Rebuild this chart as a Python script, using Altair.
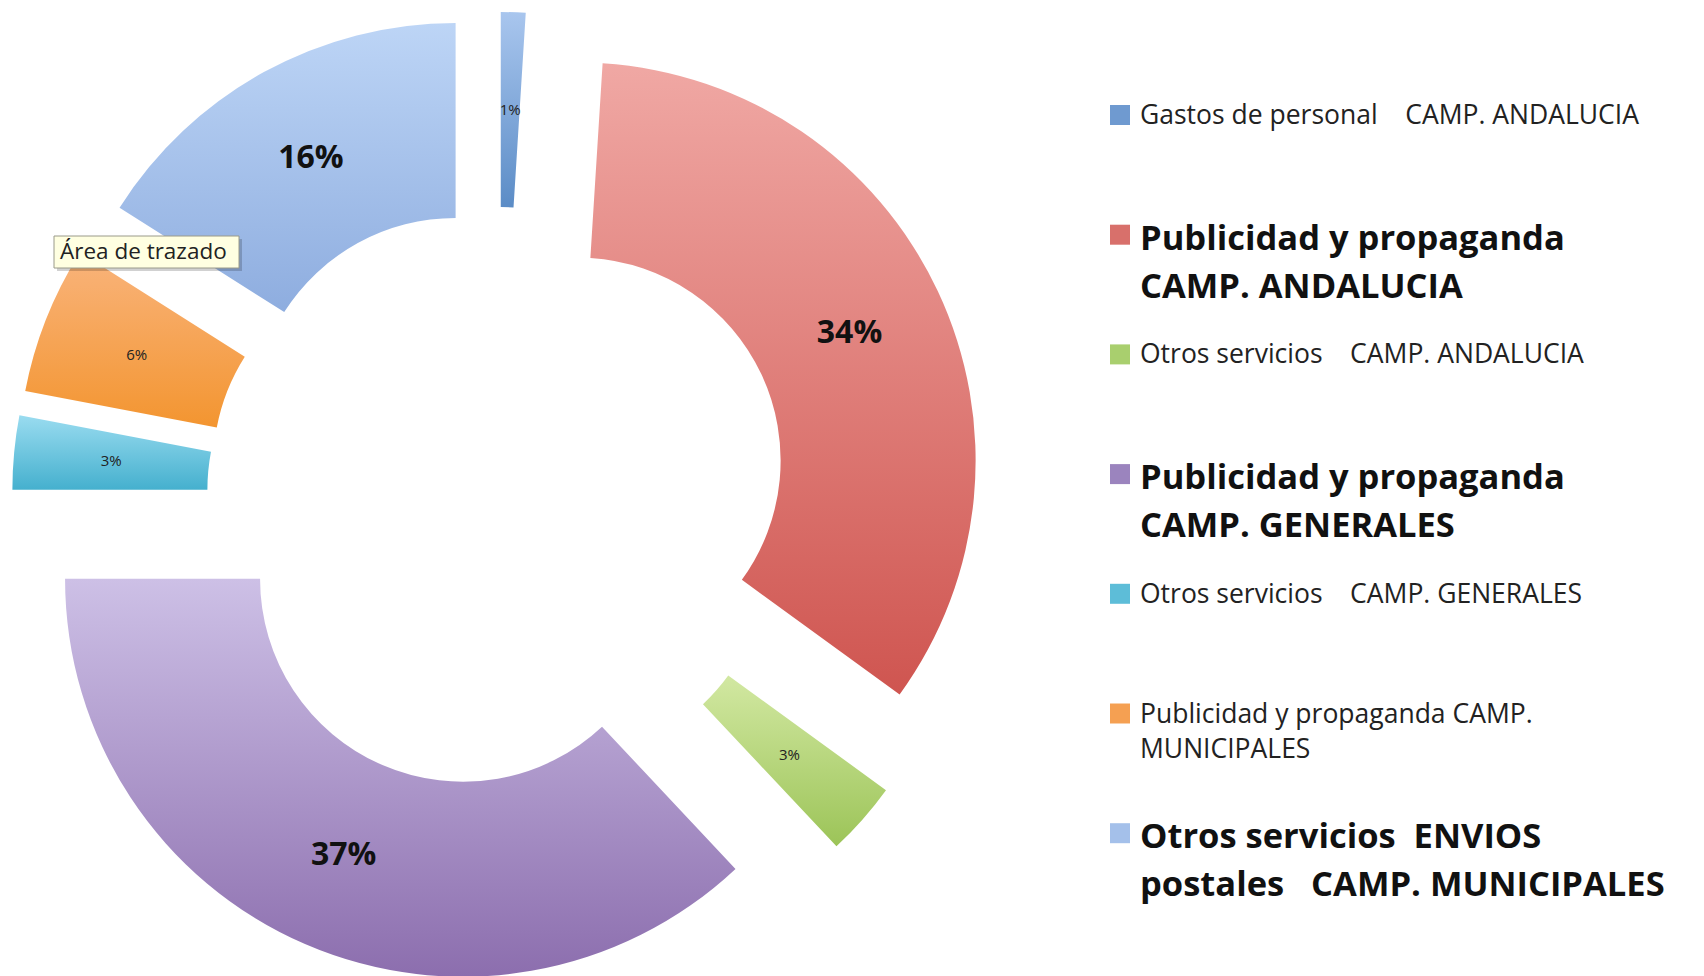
import altair as alt
import pandas as pd

# ---------------- data ----------------
categories = [
    "Gastos de personal CAMP. ANDALUCIA",
    "Publicidad y propaganda CAMP. ANDALUCIA",
    "Otros servicios CAMP. ANDALUCIA",
    "Publicidad y propaganda CAMP. GENERALES",
    "Otros servicios CAMP. GENERALES",
    "Publicidad y propaganda CAMP. MUNICIPALES",
    "Otros servicios ENVIOS postales CAMP. MUNICIPALES",
]
values = [1, 34, 3, 37, 3, 6, 16]
pct_labels = ["1%", "34%", "3%", "37%", "3%", "6%", "16%"]
NB = "\u00a0"
legend_labels = [
    "Gastos de personal" + NB * 4 + "CAMP. ANDALUCIA",
    "Publicidad y propaganda\nCAMP. ANDALUCIA",
    "Otros servicios" + NB * 4 + "CAMP. ANDALUCIA",
    "Publicidad y propaganda\nCAMP. GENERALES",
    "Otros servicios" + NB * 4 + "CAMP. GENERALES",
    "Publicidad y propaganda CAMP.\nMUNICIPALES",
    "Otros servicios" + NB * 2 + "ENVIOS\npostales" + NB * 3 + "CAMP. MUNICIPALES",
]
legend_bold = [False, True, False, True, False, False, True]

# ---------------- styles ----------------
top_colors = ["#A9C6EE", "#F0A8A4", "#D2E8A2", "#CDC0E6", "#9ADCF0", "#F9B47C", "#BDD5F6"]
bottom_colors = ["#5B8CC6", "#CF5550", "#9CC458", "#8C6EAE", "#45B0CE", "#F39530", "#8EADDF"]
legend_colors = ["#6F9AD0", "#D8706B", "#A9CF6E", "#9B84BE", "#5DBDD8", "#F5A052", "#A4C0EA"]

CX, CY = 490, 490       # donut centre (pixels)
D = 88                  # explode distance
R_IN, R_OUT = 203, 398
RM = (R_IN + R_OUT) / 2
LEG_X_SQ, LEG_X_TXT = 1112, 1132
LEG_Y0, LEG_STEP = 107, 119.7
FONT = "Open Sans"

df = pd.DataFrame({
    "idx": list(range(len(categories))),
    "cat": categories,
    "value": values,
    "pct": pct_labels,
    "legend": legend_labels,
    "bold": legend_bold,
})

base = (
    alt.Chart(df)
    .transform_window(cum="sum(value)", sort=[alt.SortField("idx")], frame=[None, 0])
    .transform_joinaggregate(total="sum(value)")
    .transform_calculate(t0="2*PI*(datum.cum - datum.value)/datum.total")
    .transform_calculate(t1="2*PI*datum.cum/datum.total")
    .transform_calculate(mid="(datum.t0 + datum.t1)/2")
    .transform_calculate(cx=f"{CX} + {D}*sin(datum.mid)")
    .transform_calculate(cy=f"{CY} - {D}*cos(datum.mid)")
    .transform_calculate(lx=f"{CX} + {D + RM}*sin(datum.mid)")
    .transform_calculate(ly=f"{CY} - {D + RM}*cos(datum.mid)")
    .transform_calculate(gy=f"{LEG_Y0} + {LEG_STEP}*datum.idx")
)

X = lambda f: alt.X(f, type="quantitative", scale=None, axis=None)
Y = lambda f: alt.Y(f, type="quantitative", scale=None, axis=None)

layers = []
for i in range(len(categories)):
    grad = {
        "gradient": "linear",
        "x1": 0, "x2": 0, "y1": 0, "y2": 1,
        "stops": [
            {"offset": 0, "color": top_colors[i]},
            {"offset": 1, "color": bottom_colors[i]},
        ],
    }
    layers.append(
        base.transform_filter(alt.datum.idx == i)
        .mark_arc(radius=R_OUT, radius2=R_IN, fill=grad, strokeWidth=0)
        .encode(
            theta=alt.Theta("t0:Q", scale=None),
            theta2="t1:Q",
            x=X("cx"),
            y=Y("cy"),
        )
    )

big_labels = (
    base.transform_filter("datum.value >= 10")
    .mark_text(font=FONT, fontSize=32, fontWeight="bold", color="#111111",
               align="center", baseline="middle")
    .encode(x=X("lx"), y=Y("ly"), text="pct:N")
)
small_labels = (
    base.transform_filter("datum.value < 10")
    .mark_text(font=FONT, fontSize=15, color="#222222",
               align="center", baseline="middle")
    .encode(x=X("lx"), y=Y("ly"), text="pct:N")
)

legend_squares = base.mark_square(size=400, opacity=1).encode(
    x=alt.X("lsx:Q", scale=None, axis=None),
    y=Y("gy"),
    color=alt.Color("cat:N", scale=alt.Scale(domain=categories, range=legend_colors), legend=None),
).transform_calculate(lsx=str(LEG_X_SQ))

legend_bold_txt = (
    base.transform_filter("datum.bold")
    .transform_calculate(tx=str(LEG_X_TXT), ty="datum.gy - 12")
    .mark_text(font=FONT, fontSize=34.5, fontWeight="bold", color="#111111",
               align="left", baseline="top", lineBreak="\n", lineHeight=48)
    .encode(x=X("tx"), y=Y("ty"), text="legend:N")
)
legend_norm_txt = (
    base.transform_filter("!datum.bold")
    .transform_calculate(tx=str(LEG_X_TXT), ty="datum.gy - 12")
    .mark_text(font=FONT, fontSize=26.5, color="#222222",
               align="left", baseline="top", lineBreak="\n", lineHeight=35)
    .encode(x=X("tx"), y=Y("ty"), text="legend:N")
)

# hover tooltip visible in the screenshot
tip_df = pd.DataFrame({"t": ["Área de trazado"]})
tip_shadow = alt.Chart(tip_df).mark_rect(fill="#000000", opacity=0.18).encode(
    x=alt.value(49), x2=alt.value(234), y=alt.value(231), y2=alt.value(263))
tip_box = alt.Chart(tip_df).mark_rect(fill="#FFFFE1", stroke="#9A9A8A", strokeWidth=1).encode(
    x=alt.value(46), x2=alt.value(231), y=alt.value(228), y2=alt.value(260))
tip_text = alt.Chart(tip_df).mark_text(font=FONT, fontSize=22.5, color="#222222",
                                       align="left", baseline="middle").encode(
    x=alt.value(52), y=alt.value(244), text="t:N")

chart = (
    alt.layer(*layers, big_labels, small_labels, legend_squares,
              legend_bold_txt, legend_norm_txt, tip_shadow, tip_box, tip_text)
    .properties(width=1688, height=968, padding=0,
                autosize=alt.AutoSizeParams(type="none"))
    .configure_view(stroke=None)
)

chart.save("out.html", embed_options={"renderer": "svg", "actions": False})
